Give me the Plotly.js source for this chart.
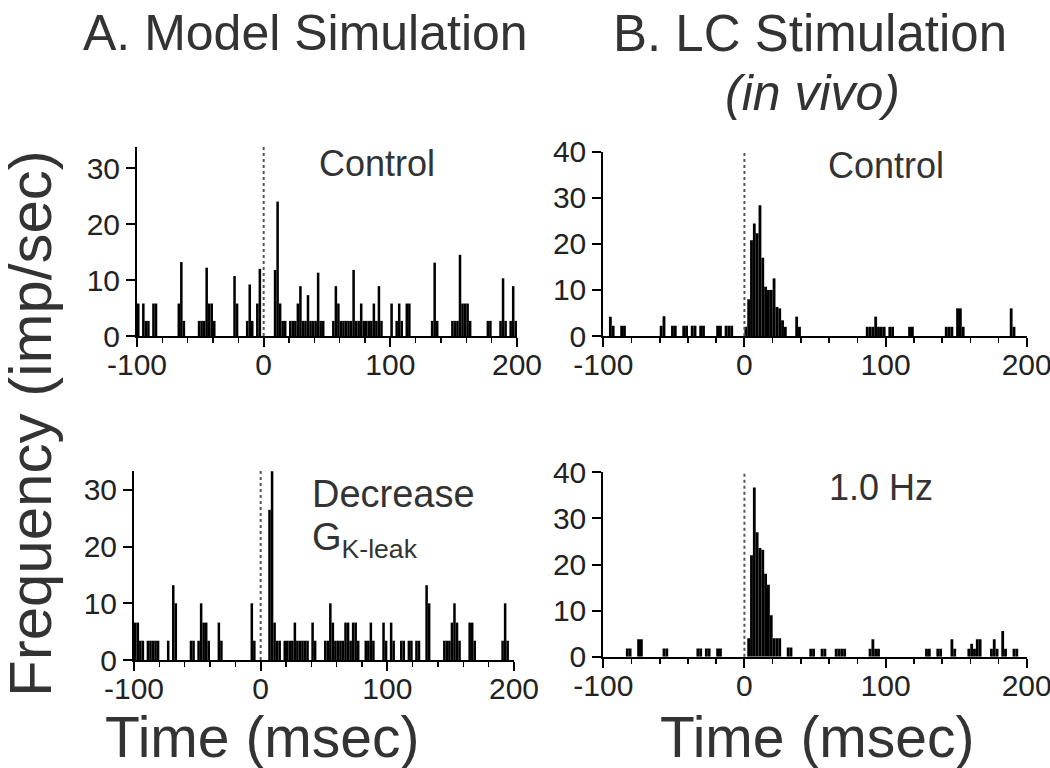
<!DOCTYPE html>
<html>
<head>
<meta charset="utf-8">
<script src="https://cdn.plot.ly/plotly-3.0.1.min.js"></script>
<style>html,body{margin:0;padding:0;background:#fff;}#chart{width:1050px;height:768px;}</style>
</head>
<body>
<div id="chart"></div>
<script>
// ---- Data (2-ms bins: bin centre in ms, rate in imp/sec) ----
// A. Model simulation, control
var aTopT = [-99,-95,-93,-91,-87,-85,-67,-65,-63,-51,-49,-47,-45,-43,-41,-39,-23,-21,-13,-11,-9,-5,-3,
  9,11,13,15,17,21,23,25,27,29,31,33,35,37,39,41,43,45,47,
  55,57,59,61,63,65,67,69,71,73,75,77,79,81,83,85,87,89,91,93,
  101,105,107,109,113,115,133,135,137,149,151,153,155,157,159,161,163,177,179,187,189,191,195,197,199];
var aTopV = [5.8,5.8,2.7,2.7,5.8,5.8,5.8,13.2,2.7,2.7,2.7,2.7,12.2,5.8,5.8,2.7,10.7,5.8,2.7,9.2,2.7,5.8,12,
  11.8,24,5.8,2.7,2.7,2.7,2.7,2.7,5.8,8.9,2.7,2.7,7.3,2.7,2.7,2.7,11.3,2.7,2.7,
  2.7,8.9,5.8,2.7,2.7,2.7,2.7,2.7,11.8,2.7,2.7,5.8,2.7,2.7,2.7,2.7,5.8,2.7,8.9,2.7,
  5.8,2.7,5.8,2.7,5.8,5.8,2.7,13.1,2.7,2.7,2.7,2.7,14.5,5.8,5.8,5.8,2.7,2.7,2.7,2.7,10.3,2.7,2.7,8.9,2.7];
// A. Model simulation, decrease G K-leak
var aBotT = [-99,-97,-95,-93,-89,-87,-85,-83,-81,-73,-69,-67,-55,-53,-49,-47,-45,-43,-41,-33,-31,-7,-5,
  7,9,11,13,15,19,21,23,25,27,29,31,33,35,37,41,43,
  51,53,55,57,59,61,63,65,67,69,71,73,75,77,83,85,87,89,97,99,103,105,
  111,113,117,119,123,125,131,133,145,147,149,151,153,155,157,165,167,169,191,193,195];
var aBotV = [6.6,6.6,3.4,3.4,3.4,3.4,3.4,3.4,3.4,3.4,13.2,10,3.4,3.4,3.4,10,6.6,6.6,3.4,6.6,3.4,10,3.4,
  26.5,33.3,6.6,3.4,3.4,3.4,3.4,3.4,3.4,6.6,3.4,3.4,3.4,3.4,3.4,6.6,3.4,
  3.4,3.4,10,6.6,3.4,3.4,3.4,3.4,6.6,6.6,3.4,6.6,6.6,3.4,3.4,3.4,6.6,3.4,6.6,3.4,6.6,3.4,
  3.4,3.4,3.4,3.4,3.4,3.4,13.2,10,3.4,3.4,3.4,6.6,10,6.6,3.4,6.6,6.6,3.4,3.4,10,3.4];
// B. LC stimulation in vivo, control
var bTopT = [-95,-93,-87,-85,-59,-57,-51,-49,-43,-41,-37,-35,-31,-29,-19,-17,-13,-11,-9,
  1,3,5,7,9,11,13,15,17,19,21,23,25,27,29,37,39,
  87,89,91,93,95,97,99,103,105,117,119,143,145,147,151,153,155,189,191];
var bTopV = [4.2,2.2,2.2,2.2,2.2,4.3,2.2,2.2,2.2,2.2,2.2,2.2,2.2,2.2,2.2,2.2,2.2,2.2,2.2,
  2,8,20.8,24.4,22.3,28.4,17,10.7,10,10,12.5,6.3,6,3.4,2,4.2,2,
  2,2,2,4.2,2,2,2,2,2,2,2,2,2,2,6,6,2,6,2];
// B. LC stimulation in vivo, 1.0 Hz
var bBotT = [-83,-81,-75,-73,-57,-55,-33,-31,-27,-25,-19,-17,
  3,5,7,9,11,13,15,17,19,21,23,25,31,33,
  47,49,55,57,65,67,69,71,89,91,93,95,129,131,137,139,147,149,
  159,161,163,165,167,175,177,179,183,185,191,193];
var bBotV = [1.8,1.8,3.8,3.8,1.8,1.8,1.8,1.8,1.8,1.8,1.8,1.8,
  4,22,36.7,27,23.6,23.2,18,15.6,9,4,4,4,2,2,
  1.7,1.7,1.7,1.7,1.7,1.7,1.7,1.7,1.7,3.8,1.7,1.7,1.7,1.7,1.7,1.7,3.8,1.7,
  1.7,2.8,1.7,3.8,3.8,1.7,3.8,1.7,5.6,1.7,1.7,1.7];

var xTickVals = [-100, 0, 100, 200];
var xTickText = ['-100', '0', '100', '200'];
var aYTicks = [0, 10, 20, 30];
var bYTicks = [0, 10, 20, 30, 40];

// ---- Styling ----
var FONT = 'Liberation Sans, Arial, Helvetica, sans-serif';
var TXT = '#333333';

function bars(t, v, xa, ya) {
  return {type: 'bar', x: t, y: v, width: 2, xaxis: xa, yaxis: ya,
    marker: {color: '#000000', line: {width: 0}}, hoverinfo: 'skip'};
}
function xAxis(dom, anchor) {
  return {domain: dom, anchor: anchor, range: [-100, 200], tickmode: 'array',
    tickvals: xTickVals, ticktext: xTickText, ticks: 'outside', ticklen: 9, tickwidth: 2,
    tickcolor: '#000', showline: true, linewidth: 2, linecolor: '#000', showgrid: false,
    zeroline: false, ticklabeloverflow: 'allow', ticklabelstandoff: -8,
    tickfont: {family: FONT, size: 30, color: '#222'},
    minor: {tickmode: 'linear', tick0: -100, dtick: 20, ticks: 'outside', ticklen: 5,
      tickwidth: 1.5, tickcolor: '#000', showgrid: false}};
}
function yAxis(dom, anchor, top, ticks) {
  return {domain: dom, anchor: anchor, range: [0, top], tickmode: 'array', tickvals: ticks,
    ticks: 'outside', ticklen: 9, tickwidth: 2, tickcolor: '#000', showline: true,
    linewidth: 2, linecolor: '#000', showgrid: false, zeroline: false,
    ticklabelstandoff: 0, ticklabeloverflow: 'allow',
    tickfont: {family: FONT, size: 30, color: '#222'}};
}
function vline(xa, ya) {
  return {type: 'line', xref: xa, yref: ya + ' domain', x0: 0, x1: 0, y0: 0, y1: 1,
    line: {color: '#555', width: 2, dash: 'dot'}, layer: 'above'};
}
function ann(text, x, y, size, anchor, extra) {
  var a = {text: text, xref: 'paper', yref: 'paper', x: x / 1050, y: 1 - y / 768,
    xanchor: anchor || 'center', yanchor: 'middle', showarrow: false,
    font: {family: FONT, size: size, color: TXT}};
  if (extra) { for (var k in extra) a[k] = extra[k]; }
  return a;
}

var data = [
  bars(aTopT, aTopV, 'x', 'y'),
  bars(aBotT, aBotV, 'x2', 'y2'),
  bars(bTopT, bTopV, 'x3', 'y3'),
  bars(bBotT, bBotV, 'x4', 'y4')
];

var layout = {
  width: 1050, height: 768, margin: {l: 0, r: 0, t: 0, b: 0},
  paper_bgcolor: '#fff', plot_bgcolor: '#fff', showlegend: false, barmode: 'overlay',
  xaxis: xAxis([137 / 1050, 517 / 1050], 'y'),
  yaxis: yAxis([1 - 336 / 768, 1 - 147 / 768], 'x', 33.75, aYTicks),
  xaxis2: xAxis([134 / 1050, 514 / 1050], 'y2'),
  yaxis2: yAxis([1 - 660 / 768, 1 - 470.7 / 768], 'x2', 33.4, aYTicks),
  xaxis3: xAxis([603.3 / 1050, 1026.7 / 1050], 'y3'),
  yaxis3: yAxis([1 - 336 / 768, 1 - 151.7 / 768], 'x3', 40, bYTicks),
  xaxis4: xAxis([603.3 / 1050, 1026.7 / 1050], 'y4'),
  yaxis4: yAxis([1 - 656.7 / 768, 1 - 472.3 / 768], 'x4', 40, bYTicks),
  shapes: [vline('x', 'y'), vline('x2', 'y2'), vline('x3', 'y3'), vline('x4', 'y4')],
  annotations: [
    ann('A. Model Simulation', 305, 33, 50),
    ann('B. LC Stimulation', 810, 33, 51),
    ann('<i>(in vivo)</i>', 812, 93, 50),
    ann('Frequency (imp/sec)', 30, 424, 60, 'center', {textangle: -90}),
    ann('Time (msec)', 262, 737, 57),
    ann('Time (msec)', 817, 737, 57),
    ann('Control', 377, 163, 36),
    ann('Control', 886, 165, 36),
    ann('Decrease', 310, 494, 38, 'left'),
    ann('G<sub>K-leak</sub>', 310, 540, 38, 'left'),
    ann('1.0 Hz', 881, 487, 36)
  ]
};

Plotly.newPlot('chart', data, layout, {staticPlot: true, displayModeBar: false});
</script>
</body>
</html>
